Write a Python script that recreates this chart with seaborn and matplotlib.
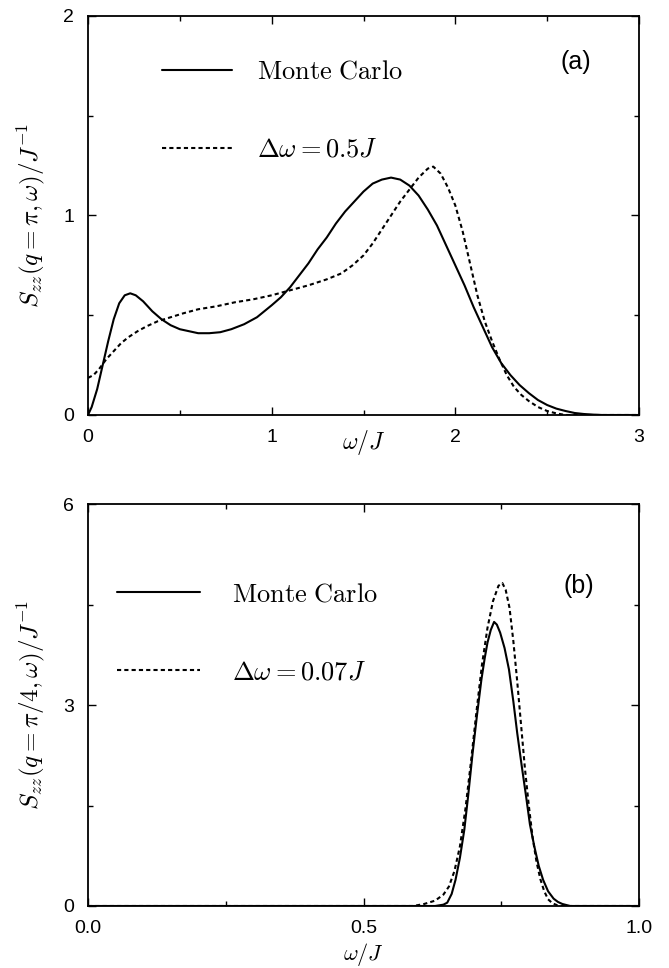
import numpy as np
import pandas as pd
import matplotlib
matplotlib.use("Agg")
import matplotlib.pyplot as plt
from matplotlib.ticker import MultipleLocator
import seaborn as sns

# ---------------- data ----------------
a_mc_x = [0.00, 0.02, 0.05, 0.08, 0.11, 0.14, 0.17, 0.20, 0.23, 0.26, 0.30, 0.35, 0.40,
          0.45, 0.50, 0.55, 0.60, 0.66, 0.72, 0.78, 0.85, 0.92, 1.00, 1.05, 1.10, 1.15,
          1.20, 1.25, 1.30, 1.35, 1.40, 1.45, 1.50, 1.55, 1.60, 1.65, 1.70, 1.75, 1.80,
          1.85, 1.90, 1.95, 2.00, 2.05, 2.10, 2.15, 2.20, 2.25, 2.30, 2.35, 2.40, 2.45,
          2.50, 2.55, 2.60, 2.65, 2.70, 2.75, 2.80, 3.00]
a_mc_y = [0.00, 0.04, 0.13, 0.25, 0.37, 0.48, 0.56, 0.60, 0.61, 0.60, 0.57, 0.52, 0.48,
          0.45, 0.43, 0.42, 0.41, 0.41, 0.415, 0.43, 0.455, 0.49, 0.55, 0.59, 0.64, 0.70,
          0.76, 0.83, 0.89, 0.96, 1.02, 1.07, 1.12, 1.16, 1.18, 1.19, 1.18, 1.15, 1.10,
          1.03, 0.95, 0.85, 0.75, 0.65, 0.54, 0.44, 0.34, 0.26, 0.20, 0.15, 0.11, 0.075,
          0.05, 0.032, 0.02, 0.01, 0.005, 0.002, 0.0, 0.0]

a_dw_x = [0.00, 0.03, 0.06, 0.10, 0.14, 0.18, 0.22, 0.27, 0.32, 0.38, 0.45, 0.52, 0.60,
          0.70, 0.80, 0.90, 1.00, 1.10, 1.20, 1.30, 1.38, 1.44, 1.50, 1.55, 1.60, 1.65,
          1.70, 1.75, 1.80, 1.85, 1.88, 1.92, 1.96, 2.00, 2.04, 2.08, 2.12, 2.16, 2.20,
          2.24, 2.28, 2.32, 2.36, 2.40, 2.45, 2.50, 2.55, 2.60, 3.00]
a_dw_y = [0.186, 0.20, 0.23, 0.28, 0.32, 0.36, 0.39, 0.42, 0.445, 0.47, 0.49, 0.51, 0.53,
          0.545, 0.565, 0.58, 0.60, 0.625, 0.65, 0.68, 0.71, 0.75, 0.80, 0.86, 0.93, 1.00,
          1.07, 1.13, 1.19, 1.235, 1.245, 1.21, 1.14, 1.05, 0.92, 0.76, 0.60, 0.47, 0.37,
          0.28, 0.20, 0.14, 0.10, 0.07, 0.04, 0.02, 0.008, 0.0, 0.0]

b_mc_x = [0.00, 0.63, 0.645, 0.652, 0.660, 0.667, 0.675, 0.683, 0.690, 0.698, 0.706, 0.714,
          0.720, 0.725, 0.731, 0.737, 0.742, 0.748, 0.756, 0.764, 0.772, 0.779, 0.787,
          0.795, 0.802, 0.810, 0.818, 0.826, 0.835, 0.845, 0.853, 0.861, 0.875, 1.00]
b_mc_y = [0.0, 0.0, 0.02, 0.05, 0.18, 0.39, 0.72, 1.14, 1.65, 2.28, 2.85, 3.38,
          3.70, 3.93, 4.12, 4.24, 4.20, 4.08, 3.85, 3.53, 3.05, 2.58, 2.10,
          1.64, 1.22, 0.89, 0.60, 0.39, 0.22, 0.11, 0.06, 0.03, 0.0, 0.0]

b_dw_x = [0.00, 0.59, 0.61, 0.63, 0.645, 0.655, 0.665, 0.675, 0.685, 0.695, 0.705, 0.715,
          0.725, 0.735, 0.745, 0.752, 0.758, 0.765, 0.772, 0.779, 0.786, 0.793, 0.800,
          0.807, 0.814, 0.821, 0.828, 0.835, 0.843, 0.852, 0.860, 1.00]
b_dw_y = [0.0, 0.0, 0.03, 0.08, 0.17, 0.29, 0.52, 0.89, 1.45, 2.15, 2.9, 3.6,
          4.15, 4.55, 4.78, 4.82, 4.72, 4.45, 3.95, 3.35, 2.7, 2.05, 1.5,
          1.02, 0.66, 0.40, 0.22, 0.10, 0.04, 0.01, 0.0, 0.0]

label_mc = r"$\mathrm{Monte\ Carlo}$"
label_a = r"$\Delta\omega = 0.5J$"
label_b = r"$\Delta\omega = 0.07J$"
ylabel_a = r"$S_{zz}(q=\pi,\omega)/J^{-1}$"
ylabel_b = r"$S_{zz}(q=\pi/4,\omega)/J^{-1}$"
xlabel = r"$\omega/J$"

xticks_a = [0, 1, 2, 3]
yticks_a = [0, 1, 2]
xticks_b = [0.0, 0.5, 1.0]
yticks_b = [0, 3, 6]

# ---------------- style ----------------
sns.set_theme(style="ticks")
plt.rcParams["font.family"] = ["Liberation Sans", "DejaVu Sans"]
plt.rcParams["mathtext.fontset"] = "cm"
plt.rcParams["axes.linewidth"] = 1.3
plt.rcParams["axes.edgecolor"] = "black"

fig = plt.figure(figsize=(6.69, 9.68), dpi=100)
W, H = 669, 968
ax_a = fig.add_axes([88 / W, 1 - 415 / H, 551 / W, 399 / H])
ax_b = fig.add_axes([88 / W, 1 - 906 / H, 551 / W, 402 / H])

dotted = (0, (2.0, 1.5))
lw = 1.5

def draw(ax, mc_x, mc_y, dw_x, dw_y, lab2):
    df1 = pd.DataFrame({"x": mc_x, "y": mc_y})
    df2 = pd.DataFrame({"x": dw_x, "y": dw_y})
    sns.lineplot(data=df1, x="x", y="y", ax=ax, color="black", lw=lw,
                 estimator=None, sort=False, label=label_mc)
    sns.lineplot(data=df2, x="x", y="y", ax=ax, color="black", lw=lw,
                 linestyle=dotted, estimator=None, sort=False, label=lab2)

draw(ax_a, a_mc_x, a_mc_y, a_dw_x, a_dw_y, label_a)
draw(ax_b, b_mc_x, b_mc_y, b_dw_x, b_dw_y, label_b)

def style(ax, xt, yt, xmin, ymin, xlim, ylim, ylab):
    ax.set_xlim(*xlim)
    ax.set_ylim(*ylim)
    ax.set_xticks(xt)
    ax.set_yticks(yt)
    ax.xaxis.set_minor_locator(MultipleLocator(xmin))
    ax.yaxis.set_minor_locator(MultipleLocator(ymin))
    ax.tick_params(which="both", direction="in", top=True, right=True,
                   color="black", width=1.0)
    ax.tick_params(which="major", length=6, labelsize=14, labelcolor="black")
    ax.tick_params(which="minor", length=3.5)
    ax.tick_params(axis="x", which="major", pad=10)
    ax.tick_params(axis="y", which="major", pad=10)
    ax.set_ylabel(ylab, fontsize=18, color="black")
    ax.yaxis.set_label_coords(-0.075, 0.5)
    for s in ax.spines.values():
        s.set_visible(True)
        s.set_color("black")

style(ax_a, xticks_a, yticks_a, 0.5, 0.5, (0, 3), (0, 2), ylabel_a)
style(ax_b, xticks_b, yticks_b, 0.25, 1.5, (0, 1), (0, 6), ylabel_b)
ax_a.set_xticklabels(["0", "1", "2", "3"])
ax_a.set_yticklabels(["0", "1", "2"])
ax_b.set_xticklabels(["0.0", "0.5", "1.0"])
ax_b.set_yticklabels(["0", "3", "6"])

ax_a.set_xlabel(xlabel, fontsize=17, color="black")
ax_a.xaxis.set_label_coords(0.5, -0.032)
ax_b.set_xlabel(xlabel, fontsize=16, color="black")
ax_b.xaxis.set_label_coords(0.5, -0.088)

leg_a = ax_a.legend(loc="upper left", bbox_to_anchor=(0.134, 0.89), frameon=False,
                    fontsize=19, handlelength=2.65, handletextpad=0.95,
                    labelspacing=2.05, borderpad=0, borderaxespad=0)
leg_b = ax_b.legend(loc="upper left", bbox_to_anchor=(0.053, 0.805), frameon=False,
                    fontsize=19, handlelength=3.15, handletextpad=1.2,
                    labelspacing=2.05, borderpad=0, borderaxespad=0)
for leg in (leg_a, leg_b):
    for t in leg.get_texts():
        t.set_color("black")

ax_a.text(0.885, 0.885, "(a)", transform=ax_a.transAxes, fontsize=18,
          ha="center", va="center", color="black")
ax_b.text(0.89, 0.795, "(b)", transform=ax_b.transAxes, fontsize=18,
          ha="center", va="center", color="black")

fig.savefig("out.png", dpi=100)
